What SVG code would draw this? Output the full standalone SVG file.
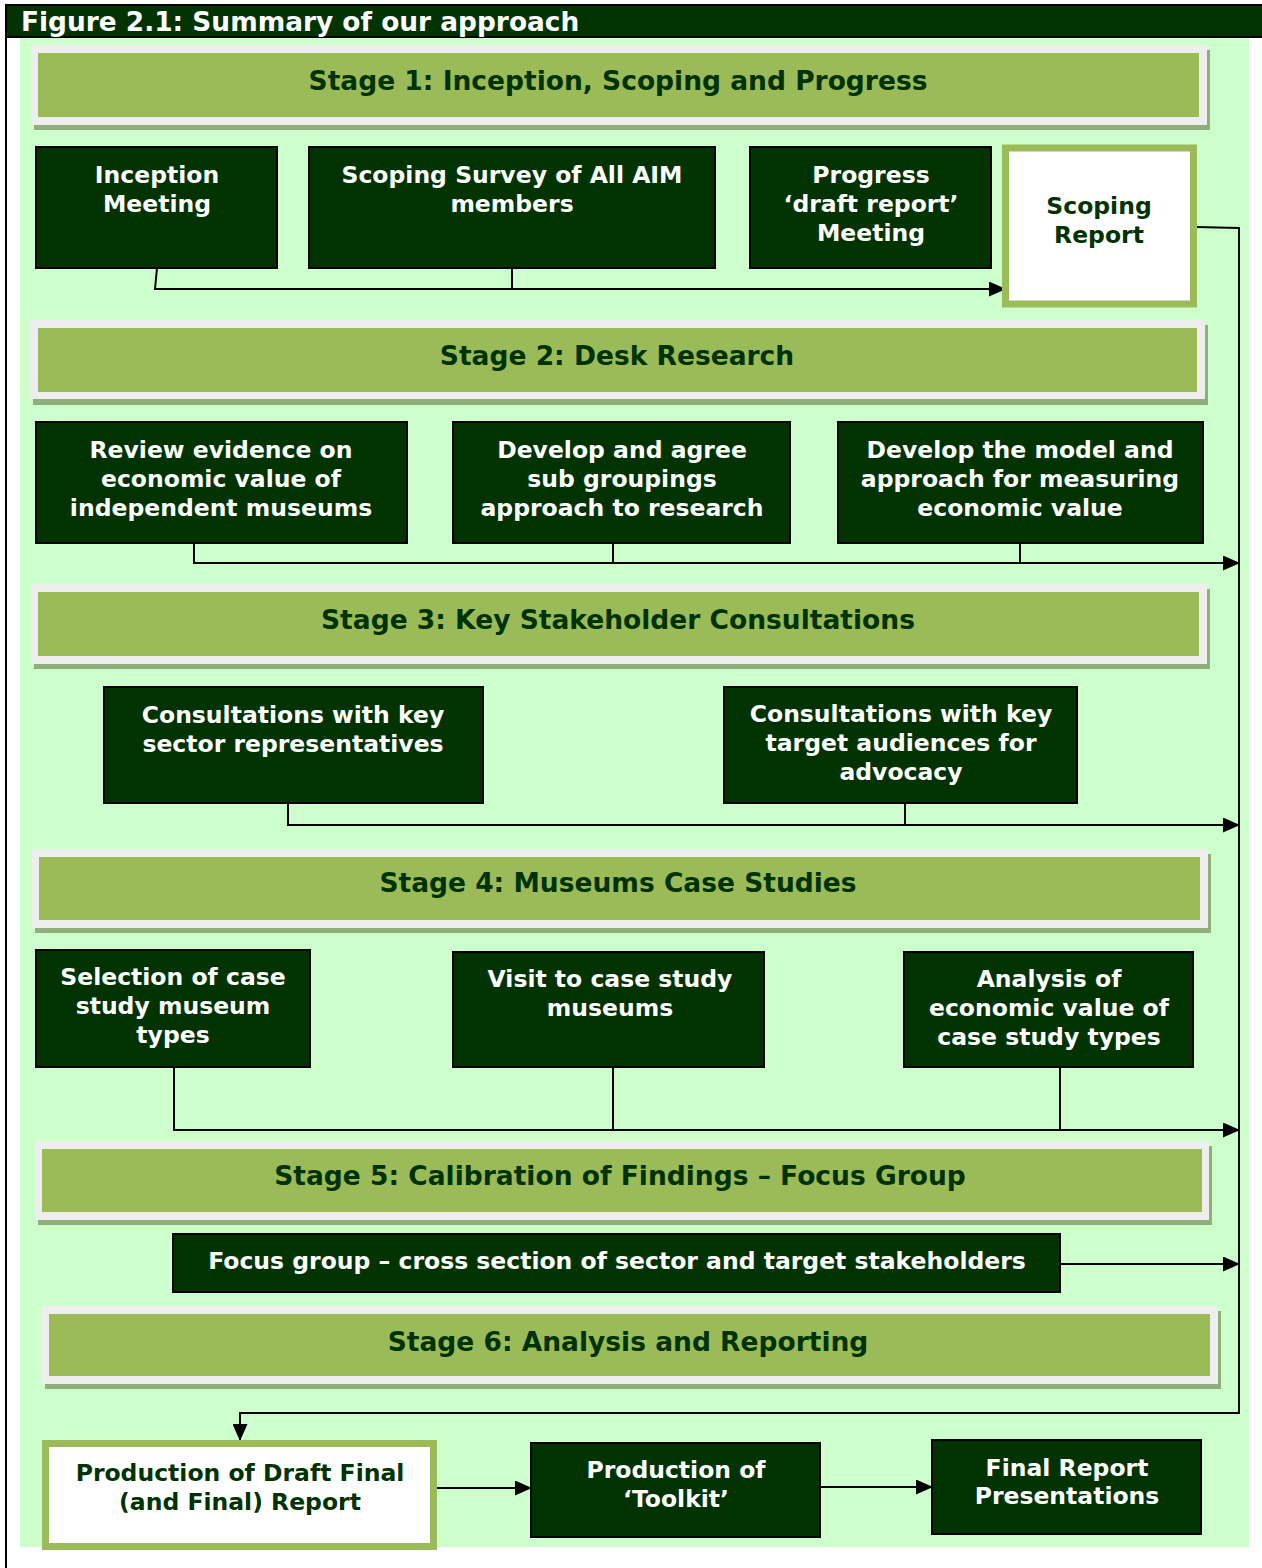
<svg xmlns="http://www.w3.org/2000/svg" width="1262" height="1568" viewBox="0 0 1262 1568">
<defs>
<style>
.hdr{font-family:"DejaVu Sans",Verdana,"Liberation Sans",sans-serif;font-weight:bold;font-size:26.4px;fill:#ffffff}
.stg{font-family:"DejaVu Sans",Verdana,"Liberation Sans",sans-serif;font-weight:bold;font-size:26.5px;fill:#003300;text-anchor:middle}
.bt{font-family:"DejaVu Sans",Verdana,"Liberation Sans",sans-serif;font-weight:bold;font-size:23.5px;fill:#ffffff;text-anchor:middle}
.gt{font-family:"DejaVu Sans",Verdana,"Liberation Sans",sans-serif;font-weight:bold;font-size:23.5px;fill:#003300;text-anchor:middle}
.box{fill:#003300;stroke:#000000;stroke-width:2}
.wbox{fill:#ffffff;stroke:#9BBB59;stroke-width:7}
.sh{fill:#8FAE7C}
.gr{fill:#EEEEEE}
.in{fill:#9BBB59}
.ln{fill:none;stroke:#000000;stroke-width:2}
</style>
<marker id="ah" markerUnits="userSpaceOnUse" markerWidth="17" markerHeight="15" refX="16" refY="7.5" orient="auto">
<path d="M0,0 L17,7.5 L0,15 Z" fill="#000000"/>
</marker>
</defs>
<rect x="0" y="0" width="1262" height="1568" fill="#ffffff"/>
<rect x="20" y="38" width="1229" height="1509" fill="#CCFFCC"/>
<line x1="6" y1="37" x2="6" y2="1568" stroke="#000" stroke-width="2"/>
<g id="header">
<rect x="6" y="5" width="1260" height="32" fill="#003300" stroke="#000" stroke-width="2"/>
<text class="hdr" x="21" y="31">Figure 2.1: Summary of our approach</text>
</g>

<g id="stage1">
<rect class="sh" x="34" y="50" width="1176" height="80"/>
<rect class="gr" x="31" y="45" width="1176" height="80"/>
<rect class="in" x="38" y="53" width="1161" height="64"/>
<text class="stg" x="618" y="90">Stage 1: Inception, Scoping and Progress</text>
</g>
<g id="stage2">
<rect class="sh" x="33" y="325" width="1175" height="80"/>
<rect class="gr" x="30" y="320" width="1175" height="79"/>
<rect class="in" x="38" y="328" width="1159" height="64"/>
<text class="stg" x="617" y="365">Stage 2: Desk Research</text>
</g>
<g id="stage3">
<rect class="sh" x="34" y="589" width="1176" height="80"/>
<rect class="gr" x="31" y="584" width="1176" height="80"/>
<rect class="in" x="38" y="592" width="1161" height="64"/>
<text class="stg" x="618" y="629">Stage 3: Key Stakeholder Consultations</text>
</g>
<g id="stage4">
<rect class="sh" x="35" y="854" width="1176" height="79"/>
<rect class="gr" x="32" y="849" width="1176" height="79"/>
<rect class="in" x="39" y="857" width="1161" height="63"/>
<text class="stg" x="618" y="892">Stage 4: Museums Case Studies</text>
</g>
<g id="stage5">
<rect class="sh" x="38" y="1146" width="1174" height="79"/>
<rect class="gr" x="35" y="1141" width="1174" height="79"/>
<rect class="in" x="42" y="1149" width="1160" height="63"/>
<text class="stg" x="620" y="1185">Stage 5: Calibration of Findings – Focus Group</text>
</g>
<g id="stage6">
<rect class="sh" x="45" y="1311" width="1176" height="78"/>
<rect class="gr" x="42" y="1306" width="1176" height="78"/>
<rect class="in" x="49" y="1314" width="1161" height="62"/>
<text class="stg" x="628" y="1351">Stage 6: Analysis and Reporting</text>
</g>

<g id="connectors">
<polyline class="ln" points="157,268 155,289 1005,289" marker-end="url(#ah)"/>
<line class="ln" x1="512" y1="268" x2="512" y2="289"/>
<polyline class="ln" points="1196,227 1239,228 1239,1413 240,1413 240,1440" marker-end="url(#ah)"/>
<polyline class="ln" points="194,543 194,563 1239,563" marker-end="url(#ah)"/>
<line class="ln" x1="613" y1="543" x2="613" y2="563"/>
<line class="ln" x1="1020" y1="543" x2="1020" y2="563"/>
<polyline class="ln" points="288,803 288,825 1239,825" marker-end="url(#ah)"/>
<line class="ln" x1="905" y1="803" x2="905" y2="825"/>
<polyline class="ln" points="174,1067 174,1130 1239,1130" marker-end="url(#ah)"/>
<line class="ln" x1="613" y1="1067" x2="613" y2="1130"/>
<line class="ln" x1="1060" y1="1067" x2="1060" y2="1130"/>
<line class="ln" x1="1060" y1="1264" x2="1239" y2="1264" marker-end="url(#ah)"/>
<line class="ln" x1="437" y1="1488" x2="531" y2="1488" marker-end="url(#ah)"/>
<line class="ln" x1="820" y1="1487" x2="932" y2="1487" marker-end="url(#ah)"/>
</g>

<g id="inception-meeting">
<rect class="box" x="36" y="147" width="241" height="121"/>
<text class="bt" x="157" y="183">Inception</text>
<text class="bt" x="157" y="212">Meeting</text>
</g>
<g id="scoping-survey">
<rect class="box" x="309" y="147" width="406" height="121"/>
<text class="bt" x="512" y="183">Scoping Survey of All AIM</text>
<text class="bt" x="512" y="212">members</text>
</g>
<g id="progress-meeting">
<rect class="box" x="750" y="147" width="241" height="121"/>
<text class="bt" x="871" y="183">Progress</text>
<text class="bt" x="871" y="212">‘draft report’</text>
<text class="bt" x="871" y="241">Meeting</text>
</g>
<g id="scoping-report">
<rect class="wbox" x="1005.5" y="148" width="188" height="156"/>
<text class="gt" x="1099" y="214">Scoping</text>
<text class="gt" x="1099" y="243">Report</text>
</g>

<g id="review-evidence">
<rect class="box" x="36" y="422" width="371" height="121"/>
<text class="bt" x="221" y="458">Review evidence on</text>
<text class="bt" x="221" y="487">economic value of</text>
<text class="bt" x="221" y="516">independent museums</text>
</g>
<g id="develop-agree">
<rect class="box" x="453" y="422" width="337" height="121"/>
<text class="bt" x="622" y="458">Develop and agree</text>
<text class="bt" x="622" y="487">sub groupings</text>
<text class="bt" x="622" y="516">approach to research</text>
</g>
<g id="develop-model">
<rect class="box" x="838" y="422" width="365" height="121"/>
<text class="bt" x="1020" y="458">Develop the model and</text>
<text class="bt" x="1020" y="487">approach for measuring</text>
<text class="bt" x="1020" y="516">economic value</text>
</g>

<g id="consult-sector">
<rect class="box" x="104" y="687" width="379" height="116"/>
<text class="bt" x="293" y="723">Consultations with key</text>
<text class="bt" x="293" y="752">sector representatives</text>
</g>
<g id="consult-target">
<rect class="box" x="724" y="687" width="353" height="116"/>
<text class="bt" x="901" y="722">Consultations with key</text>
<text class="bt" x="901" y="751">target audiences for</text>
<text class="bt" x="901" y="780">advocacy</text>
</g>

<g id="selection">
<rect class="box" x="36" y="950" width="274" height="117"/>
<text class="bt" x="173" y="985">Selection of case</text>
<text class="bt" x="173" y="1014">study museum</text>
<text class="bt" x="173" y="1043">types</text>
</g>
<g id="visit">
<rect class="box" x="453" y="952" width="311" height="115"/>
<text class="bt" x="610" y="987">Visit to case study</text>
<text class="bt" x="610" y="1016">museums</text>
</g>
<g id="analysis">
<rect class="box" x="904" y="952" width="289" height="115"/>
<text class="bt" x="1049" y="987">Analysis of</text>
<text class="bt" x="1049" y="1016">economic value of</text>
<text class="bt" x="1049" y="1045">case study types</text>
</g>

<g id="focus-group">
<rect class="box" x="173" y="1234" width="887" height="58"/>
<text class="bt" x="617" y="1269">Focus group – cross section of sector and target stakeholders</text>
</g>

<g id="draft-final">
<rect class="wbox" x="45.5" y="1443.5" width="388" height="103"/>
<text class="gt" x="240" y="1481">Production of Draft Final</text>
<text class="gt" x="240" y="1510">(and Final) Report</text>
</g>
<g id="toolkit">
<rect class="box" x="531" y="1443" width="289" height="94"/>
<text class="bt" x="676" y="1478">Production of</text>
<text class="bt" x="676" y="1507">‘Toolkit’</text>
</g>
<g id="final-presentations">
<rect class="box" x="932" y="1440" width="269" height="94"/>
<text class="bt" x="1067" y="1476">Final Report</text>
<text class="bt" x="1067" y="1504">Presentations</text>
</g>
</svg>
